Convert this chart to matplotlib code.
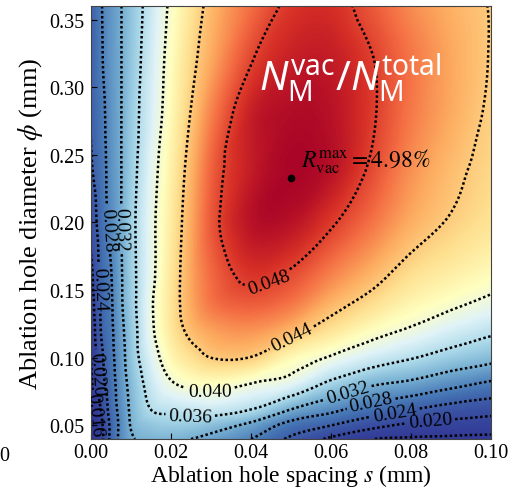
import numpy as np
import matplotlib
matplotlib.use("Agg")
import matplotlib.pyplot as plt
import matplotlib.tri as mtri
from matplotlib.colors import PowerNorm
from matplotlib.ticker import FormatStrFormatter

plt.rcParams['font.family'] = 'serif'
plt.rcParams['font.serif'] = ['Liberation Serif', 'DejaVu Serif']
plt.rcParams['mathtext.fontset'] = 'stix'
# sans font only used by the white title (math_fontfamily='custom')
plt.rcParams['mathtext.rm'] = 'Noto Sans'
plt.rcParams['mathtext.it'] = 'Noto Sans:italic'
plt.rcParams['mathtext.bf'] = 'Noto Sans:bold'

# ---- data ----
# ablation hole spacing s (mm) -> grid columns
spacing = [0.0, 0.0025, 0.005, 0.0075, 0.01, 0.015, 0.02, 0.025, 0.03,
           0.04, 0.05, 0.06, 0.07, 0.08, 0.09, 0.10]
# ablation hole diameter phi (mm) -> grid rows
diameter = [0.04, 0.05, 0.06, 0.08, 0.10, 0.12, 0.14, 0.16, 0.20,
            0.24, 0.28, 0.32, 0.36]
# N_vac / N_total, one row per diameter
ratio = [
    [0.0120, 0.0185, 0.0250, 0.0290, 0.0315, 0.0325, 0.0326, 0.0320, 0.0310, 0.0280, 0.0233, 0.0193, 0.0162, 0.0155, 0.0152, 0.0150],
    [0.0128, 0.0190, 0.0248, 0.0290, 0.0322, 0.0340, 0.0345, 0.0343, 0.0335, 0.0310, 0.0264, 0.0240, 0.0212, 0.0192, 0.0186, 0.0180],
    [0.0135, 0.0200, 0.0255, 0.0293, 0.0325, 0.0358, 0.0364, 0.0368, 0.0370, 0.0354, 0.0312, 0.0283, 0.0254, 0.0234, 0.0218, 0.0209],
    [0.0150, 0.0222, 0.0262, 0.0300, 0.0331, 0.0373, 0.0396, 0.0405, 0.0408, 0.0398, 0.0386, 0.0350, 0.0323, 0.0309, 0.0289, 0.0271],
    [0.0160, 0.0230, 0.0268, 0.0305, 0.0340, 0.0385, 0.0415, 0.0430, 0.0440, 0.0439, 0.0414, 0.0397, 0.0378, 0.0362, 0.0345, 0.0331],
    [0.0170, 0.0241, 0.0272, 0.0310, 0.0342, 0.0394, 0.0426, 0.0445, 0.0454, 0.0458, 0.0447, 0.0428, 0.0410, 0.0396, 0.0380, 0.0366],
    [0.0180, 0.0245, 0.0275, 0.0315, 0.0346, 0.0396, 0.0428, 0.0452, 0.0466, 0.0473, 0.0466, 0.0448, 0.0432, 0.0416, 0.0405, 0.0393],
    [0.0190, 0.0250, 0.0278, 0.0316, 0.0347, 0.0392, 0.0427, 0.0453, 0.0469, 0.0483, 0.0477, 0.0462, 0.0447, 0.0430, 0.0420, 0.0410],
    [0.0215, 0.0258, 0.0289, 0.0319, 0.0349, 0.0392, 0.0424, 0.0452, 0.0474, 0.0494, 0.0494, 0.0482, 0.0467, 0.0450, 0.0438, 0.0428],
    [0.0236, 0.0263, 0.0295, 0.0319, 0.0346, 0.0388, 0.0420, 0.0448, 0.0471, 0.0491, 0.0498, 0.0494, 0.0478, 0.0459, 0.0445, 0.0434],
    [0.0242, 0.0268, 0.0297, 0.0319, 0.0344, 0.0381, 0.0414, 0.0441, 0.0463, 0.0490, 0.0496, 0.0494, 0.0482, 0.0465, 0.0451, 0.0437],
    [0.0242, 0.0275, 0.0300, 0.0319, 0.0341, 0.0378, 0.0410, 0.0434, 0.0452, 0.0479, 0.0490, 0.0491, 0.0481, 0.0466, 0.0452, 0.0439],
    [0.0242, 0.0277, 0.0300, 0.0319, 0.0339, 0.0374, 0.0405, 0.0428, 0.0446, 0.0468, 0.0483, 0.0485, 0.0474, 0.0460, 0.0449, 0.0439],
]
levels = [0.016, 0.020, 0.024, 0.028, 0.032, 0.036, 0.040, 0.044, 0.048]
# where the inline contour labels sit (s, phi)
label_spots = [(0.045, 0.152), (0.0498, 0.1176), (0.0298, 0.0748), (0.0248, 0.0556),
               (0.064, 0.0755), (0.0075, 0.195), (0.070, 0.0666), (0.0043, 0.195),
               (0.076, 0.060), (0.0018, 0.151), (0.0848, 0.0541), (0.0015, 0.088),
               (0.0008, 0.058)]
s_best, phi_best, r_best = 0.050, 0.233, 4.98
xticks = [0.00, 0.02, 0.04, 0.06, 0.08, 0.10]
yticks = [0.05, 0.10, 0.15, 0.20, 0.25, 0.30, 0.35]

# ---- smooth the read grid with matplotlib's cubic tri interpolator ----
S, P = np.meshgrid(spacing, diameter)
ns, nphi = len(spacing), len(diameter)
tris = []
for j in range(nphi - 1):
    for i in range(ns - 1):
        k = j * ns + i
        tris.append([k, k + 1, k + ns + 1])
        tris.append([k, k + ns + 1, k + ns])
tri = mtri.Triangulation(S.ravel(), P.ravel(), tris)
interp = mtri.CubicTriInterpolator(tri, np.array(ratio).ravel(), kind='geom')

sf = np.linspace(spacing[0], spacing[-1], 401)
pf = np.linspace(diameter[0], diameter[-1], 401)
SF, PF = np.meshgrid(sf, pf)
field = np.ma.filled(interp(SF, PF), np.nan)

fig = plt.figure(figsize=(5.12, 4.89), dpi=100)
ax = fig.add_axes([0.1777, 0.1002, 0.7813, 0.8855])

ax.imshow(field, extent=(spacing[0], spacing[-1], diameter[0], diameter[-1]),
          origin='lower', aspect='auto', cmap='RdYlBu_r',
          norm=PowerNorm(gamma=3, vmin=0.006, vmax=0.050), interpolation='bilinear')
cs = ax.contour(SF, PF, field, levels=levels, colors='k', linewidths=1.8)
cs.set_linestyle((0, (1, 1)))
ax.clabel(cs, fmt='%.3f', fontsize=14, manual=label_spots, inline_spacing=3)

ax.plot(s_best, phi_best, 'o', color='k', ms=4.5)
ax.annotate(rf'$R_{{\rm vac}}^{{\rm max}}={r_best:.2f}\%$', xy=(s_best, phi_best),
            xytext=(7, 12), textcoords='offset points', fontsize=17,
            ha='left', va='center')
ax.text(0.6475, 0.836, r'$N_\mathrm{M}^\mathrm{vac}/N_\mathrm{M}^\mathrm{total}$',
        transform=ax.transAxes, color='white', fontsize=29, ha='center', va='center',
        math_fontfamily='custom')

ax.set_xlim(spacing[0], spacing[-1])
ax.set_ylim(diameter[0], diameter[-1])
ax.set_xticks(xticks)
ax.set_yticks(yticks)
ax.xaxis.set_major_formatter(FormatStrFormatter('%.2f'))
ax.yaxis.set_major_formatter(FormatStrFormatter('%.2f'))
ax.tick_params(direction='in', length=4, labelsize=14.5)
ax.tick_params(axis='x', pad=3)
ax.tick_params(axis='y', pad=5)
ax.set_xlabel(r'Ablation hole spacing $s$ (mm)', fontsize=17, labelpad=0)
ax.set_ylabel(r'Ablation hole diameter $\phi$ (mm)', fontsize=19, labelpad=3)
for sp in ax.spines.values():
    sp.set_color('#444444')
    sp.set_linewidth(0.8)

# stray tick label of the neighbouring panel, cut at the left border
fig.text(0.008, 1 - 457 / 489, '0', fontsize=14.5, ha='center', va='center')

fig.savefig('out.png', dpi=100)
